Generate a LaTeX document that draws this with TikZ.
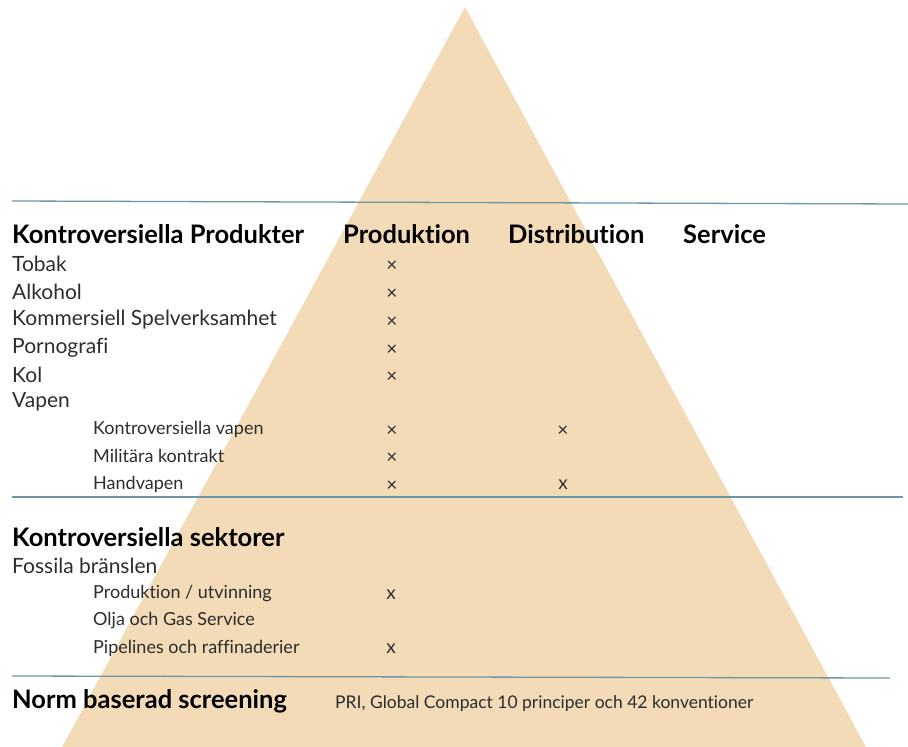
\documentclass[tikz,border=0pt]{standalone}
\usepackage{fontspec}
\setmainfont{Lato}[Ligatures=NoCommon]
\usepackage{tikz}
\definecolor{sand}{RGB}{242,219,182}
\definecolor{rule}{RGB}{110,150,165}
\definecolor{ink}{RGB}{45,45,45}

\begin{document}
\begin{tikzpicture}[x=1pt,y=-1pt,
    head/.style={anchor=west, inner sep=0pt, font=\fontsize{25.5}{27}\selectfont\bfseries},
    item/.style={anchor=west, inner sep=0pt, text=ink, font=\fontsize{21}{23}\selectfont},
    sub/.style={anchor=west, inner sep=0pt, text=ink, font=\fontsize{18}{20}\selectfont},
    tick/.style={inner sep=0pt, text=ink, font=\fontsize{19}{21}\selectfont},
    sep/.style={draw=rule, line width=1.3pt}]
      \useasboundingbox (0,0) rectangle (908,747);

      % pyramid
      \coordinate (apex) at (465,7);
      \coordinate (bl) at (62,747);
      \coordinate (br) at (866,747);
      \fill[sand] (apex) -- (bl) -- (br) -- cycle;

      % separating rules
      \coordinate (r1a) at (12,201);
      \coordinate (r1b) at (908,204);
      \coordinate (r2a) at (12,497);
      \coordinate (r2b) at (903,497);
      \coordinate (r3a) at (12,676);
      \coordinate (r3b) at (890,678);
      \draw[sep] (r1a) -- (r1b);
      \draw[sep] (r2a) -- (r2b);
      \draw[sep] (r3a) -- (r3b);

      % Kontroversiella Produkter
      \node (prod) at (12,234) [head] {Kontroversiella Produkter};
      \node (colP) at (343,234) [head] {Produktion};
      \node (colD) at (508,234) [head] {Distribution};
      \node (colS) at (683,234) [head] {Service};

      \node (tobak) at (12,264) [item] {Tobak};
      \node (alk) at (12,292) [item] {Alkohol};
      \node (spel) at (12,320) [item] {Kommersiell Spelverksamhet};
      \node (porr) at (12,348) [item] {Pornografi};
      \node (kol) at (12,375) [item] {Kol};
      \node (vapen) at (12,402) [item] {Vapen};
      \node (kvap) at (93,429) [sub] {Kontroversiella vapen};
      \node (mil) at (93,456) [sub] {Militära kontrakt};
      \node (hand) at (93,484) [sub] {Handvapen};

      \node (x1) at (392,266) [tick] {×};
      \node (x2) at (392,294) [tick] {×};
      \node (x3) at (392,322) [tick] {×};
      \node (x4) at (392,350) [tick] {×};
      \node (x5) at (392,377) [tick] {×};
      \node (x6) at (392,431) [tick] {×};
      \node (x7) at (392,458) [tick] {×};
      \node (x8) at (392,486) [tick] {×};
      \node (y6) at (563,431) [tick] {×};
      \node (y8) at (563,485) [tick] {x};

      % Kontroversiella sektorer
      \node (sekt) at (12,537) [head] {Kontroversiella sektorer};
      \node (foss) at (12,566) [item] {Fossila bränslen};
      \node (utv) at (93,594) [sub] {Produktion / utvinning};
      \node (olja) at (93,621) [sub] {Olja och Gas Service};
      \node (pipe) at (93,648) [sub] {Pipelines och raffinaderier};
      \node (z1) at (391,595) [tick] {x};
      \node (z3) at (391,649) [tick] {x};

      % Norm baserad screening
      \node (norm) at (12,701) [head] {Norm baserad screening};
      \node (pri) at (335,704) [sub, font=\fontsize{17.5}{19}\selectfont] {PRI, Global Compact 10 principer och 42 konventioner};
\end{tikzpicture}
\end{document}
